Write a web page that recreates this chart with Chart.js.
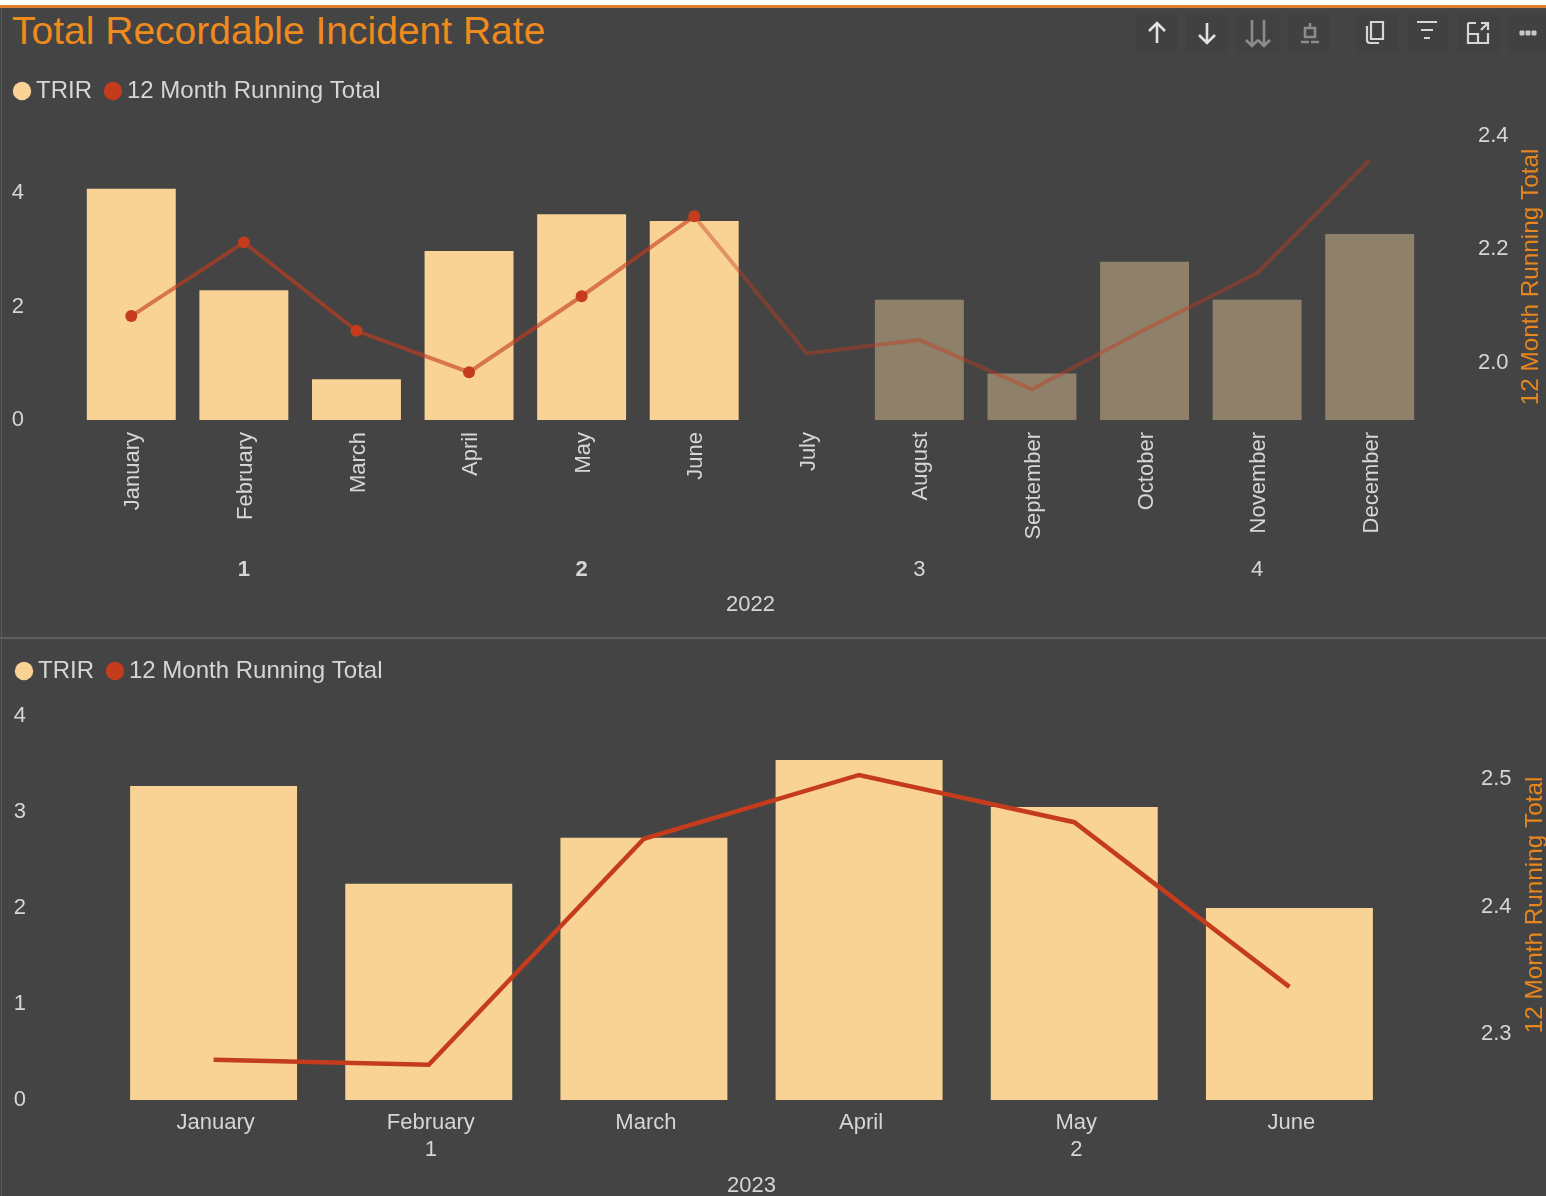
<!DOCTYPE html>
<html>
<head>
<meta charset="utf-8">
<title>Total Recordable Incident Rate</title>
<script src="https://cdn.jsdelivr.net/npm/chart.js@4"></script>
<style>
    html, body { margin: 0; padding: 0; background: #fff; }
    #board { position: relative; width: 1546px; height: 1196px; overflow: hidden; background: #444444; }
    #top-rule { position: absolute; left: 0; top: 0; width: 1546px; height: 8px; background: #fff; border-bottom: 3px solid #df7f2f; box-sizing: border-box; }
    #divider { position: absolute; left: 0; top: 637px; width: 1546px; height: 2px; background: #5f5f5f; }
    #left-edge { position: absolute; left: 1px; top: 8px; width: 1px; height: 1188px; background: #5a5a5a; }
    h1 { position: absolute; left: 12px; top: 9px; margin: 0; font: 400 39px/44px "Liberation Sans"; color: #ee8a1e; white-space: nowrap; }
    canvas { position: absolute; left: 0; }
    #chart-2022 { top: 0; }
    #chart-2023 { top: 590px; }
    #toolbar { position: absolute; left: 1130px; top: 10px; }
</style>
</head>
<body>
<div id="board">
    <div id="top-rule"></div>
    <div id="divider"></div>
    <div id="left-edge"></div>
    <h1>Total Recordable Incident Rate</h1>
    <canvas id="chart-2022" width="1546" height="638"></canvas>
    <canvas id="chart-2023" width="1546" height="609"></canvas>
    <svg id="toolbar" width="416" height="46" fill="none" stroke-width="2.6">
        <g fill="#414141" stroke="none">
            <rect x="6" y="4" width="42" height="38"/>
            <rect x="56" y="4" width="42" height="38"/>
            <rect x="107" y="4" width="42" height="38"/>
            <rect x="158" y="4" width="42" height="38"/>
            <rect x="226" y="4" width="42" height="38"/>
            <rect x="277" y="4" width="42" height="38"/>
            <rect x="328" y="4" width="42" height="38"/>
            <rect x="378" y="4" width="38" height="38"/>
        </g>
        <g stroke="#e2e2e2">
            <path d="M27 33V13M19 21l8-8 8 8"/>
            <path d="M77 13v20M69 25l8 8 8-8"/>
        </g>
        <g stroke="#8c8c8c">
            <path d="M122 10v26M116 30l6 6 6-6M134 10v26M128 30l6 6 6-6"/>
            <path d="M180 13v5M175 18h10v9h-10zM171 32h8M181 32h8"/>
        </g>
        <g stroke="#d6d6d6" stroke-width="2.2">
            <path d="M241 12h12v17h-12zM237 16v14q0 3 3 3h9"/>
            <path d="M287 12h20M291 20h12M294 28h6"/>
            <path d="M338 13h8M358 23v10h-20V13M338 24h10v9M351 13h7v7M358 13l-7 7"/>
        </g>
        <path d="M390 21h4v4h-4zM396 21h4v4h-4zM402 21h4v4h-4z" fill="#c8c8c8" stroke="#c8c8c8" stroke-width="1"/>
    </svg>
</div>

<script>
var seriesBars = 'TRIR';
var seriesLine = '12 Month Running Total';

var months2022     = ['January', 'February', 'March', 'April', 'May', 'June', 'July', 'August', 'September', 'October', 'November', 'December'];
var quarters2022   = ['', '1', '', '', '2', '', '', '3', '', '', '4', ''];
var trir2022       = [4.08, 2.29, 0.72, 2.98, 3.63, 3.51, null, 2.12, 0.82, 2.79, 2.12, 3.28];
var running2022    = [2.082, 2.212, 2.056, 1.983, 2.117, 2.258, 2.016, 2.04, 1.953, 2.058, 2.158, 2.357];
var leftTicks2022  = [0, 2, 4];
var rightTicks2022 = [2.0, 2.2, 2.4];

var months2023     = ['January', 'February', 'March', 'April', 'May', 'June'];
var quarters2023   = ['', '1', '', '', '2', ''];
var trir2023       = [3.27, 2.25, 2.73, 3.54, 3.05, 2.0];
var running2023    = [2.280, 2.276, 2.453, 2.503, 2.466, 2.337];
var leftTicks2023  = [0, 1, 2, 3, 4];
var rightTicks2023 = [2.3, 2.4, 2.5];

// 2022 : only the first six months stay highlighted
var highlighted2022 = 6;

var COL_BAR       = '#f9d296';
var COL_BAR_DIM   = '#8f806a';
var COL_LINE      = '#c43c1c';
var COL_TEXT      = '#d6d6d6';
var COL_AXIS_NAME = '#e8861e';
var FONT          = '"Liberation Sans"';

Chart.defaults.font.family = FONT;
Chart.defaults.animation = false;

// The right axis name reads bottom to top, which the axis title cannot do
var rightName = {
    id: 'rightName',
    afterDraw: function (chart, args, opts) {
        var ctx = chart.ctx;
        ctx.save();
        ctx.translate(opts.x, opts.y);
        ctx.rotate(-Math.PI / 2);
        ctx.textAlign = 'center';
        ctx.textBaseline = 'middle';
        ctx.fillStyle = COL_AXIS_NAME;
        ctx.font = '24.3px ' + FONT;
        ctx.fillText(seriesLine, 0, 0);
        ctx.restore();
    }
};

function fixTicks(values) {
    return function (scale) {
        scale.ticks = values.map(function (v) { return { value: v }; });
    };
}

function fixWidth(w) {
    return function (scale) { scale.width = w; };
}

function fixHeight(h) {
    return function (scale) { scale.height = h; };
}

function drawChart(id, c) {
    return new Chart(document.getElementById(id), {
        type: 'bar',
        plugins: [rightName],
        data: {
            labels: c.months,
            datasets: [
                {
                    type: 'line',
                    label: seriesLine,
                    data: c.running,
                    yAxisID: 'y1',
                    order: 0,
                    borderColor: COL_LINE,
                    backgroundColor: COL_LINE,
                    borderWidth: c.lineWidth,
                    tension: 0,
                    pointStyle: 'circle',
                    pointRadius: c.pointRadius,
                    pointBackgroundColor: COL_LINE,
                    pointBorderWidth: 0,
                    segment: { borderColor: c.segmentColor }
                },
                {
                    label: seriesBars,
                    data: c.trir,
                    yAxisID: 'y',
                    order: 1,
                    backgroundColor: c.barColor,
                    categoryPercentage: 1,
                    barPercentage: c.barShare
                }
            ]
        },
        options: {
            responsive: false,
            layout: { padding: { left: c.padLeft, top: c.padTop } },
            plugins: {
                rightName: c.rightName,
                tooltip: { enabled: false },
                legend: {
                    position: 'top',
                    align: 'start',
                    reverse: true,
                    labels: {
                        usePointStyle: true,
                        boxWidth: 4,
                        boxHeight: 13,
                        padding: 19,
                        color: COL_TEXT,
                        font: { size: 24 }
                    }
                }
            },
            scales: {
                x: {
                    weight: 0,
                    offset: true,
                    border: { display: false },
                    grid: { display: false, drawTicks: false },
                    afterFit: fixHeight(c.monthsHeight),
                    ticks: {
                        color: COL_TEXT,
                        autoSkip: false,
                        minRotation: c.monthRotation,
                        maxRotation: c.monthRotation,
                        padding: c.monthsPad,
                        labelOffset: 2,
                        font: { size: 22 }
                    }
                },
                xQuarter: {
                    type: 'category',
                    position: 'bottom',
                    weight: 1,
                    labels: c.quarters,
                    offset: true,
                    border: { display: false },
                    grid: { display: false, drawTicks: false },
                    afterFit: fixHeight(c.quartersHeight),
                    ticks: {
                        color: COL_TEXT,
                        autoSkip: false,
                        maxRotation: 0,
                        padding: c.quartersPad,
                        labelOffset: c.quartersShift,
                        font: c.quarterFont
                    },
                    title: {
                        display: true,
                        text: c.year,
                        color: COL_TEXT,
                        padding: { top: 0, bottom: c.yearPad },
                        font: { size: 22 }
                    }
                },
                y: {
                    position: 'left',
                    min: c.leftMin,
                    max: c.leftMax,
                    border: { display: false },
                    grid: { display: false, drawTicks: false },
                    afterBuildTicks: fixTicks(c.leftTicks),
                    afterFit: fixWidth(c.leftWidth),
                    ticks: {
                        color: COL_TEXT,
                        padding: c.leftPad,
                        font: { size: 22 }
                    }
                },
                y1: {
                    position: 'right',
                    min: c.rightMin,
                    max: c.rightMax,
                    border: { display: false },
                    grid: { display: false, drawTicks: false },
                    afterBuildTicks: fixTicks(c.rightTicks),
                    afterFit: fixWidth(c.rightWidth),
                    ticks: {
                        color: COL_TEXT,
                        padding: c.rightPad,
                        font: { size: 22 },
                        callback: function (v) { return v.toFixed(1); }
                    }
                }
            }
        }
    });
}

drawChart('chart-2022', {
    months: months2022, quarters: quarters2022, trir: trir2022, running: running2022,
    leftTicks: leftTicks2022, rightTicks: rightTicks2022, year: '2022',
    leftMin: 0, leftMax: 5.415, rightMin: 1.8987, rightMax: 2.4402,
    padLeft: 1, padTop: 60, leftWidth: 74, rightWidth: 120,
    leftPad: 51, rightPad: 52, barShare: 0.79, lineWidth: 4,
    monthsHeight: 133, monthRotation: 90, monthsPad: 12,
    quartersHeight: 85, quartersPad: 4, quartersShift: 0, yearPad: 20,
    rightName: { x: 1531, y: 277 },
    pointRadius: function (ctx) { return ctx.dataIndex < highlighted2022 ? 6 : 0; },
    barColor: function (ctx) { return ctx.dataIndex < highlighted2022 ? COL_BAR : COL_BAR_DIM; },
    segmentColor: function (ctx) {
        return ctx.p1DataIndex < highlighted2022 ? 'rgba(196,60,28,0.62)' : 'rgba(196,60,28,0.42)';
    },
    quarterFont: function (ctx) {
        return { size: 22, weight: ctx.index < 5 ? 'bold' : 'normal' };
    }
});

drawChart('chart-2023', {
    months: months2023, quarters: quarters2023, trir: trir2023, running: running2023,
    leftTicks: leftTicks2023, rightTicks: rightTicks2023, year: '2023',
    leftMin: 0, leftMax: 4.237, rightMin: 2.2484, rightMax: 2.5672,
    padLeft: 3, padTop: 50, leftWidth: 103, rightWidth: 149,
    leftPad: 80, rightPad: 84, barShare: 0.776, lineWidth: 4.5,
    monthsHeight: 36, monthRotation: 0, monthsPad: 10,
    quartersHeight: 63, quartersPad: 1, quartersShift: 2, yearPad: 0,
    rightName: { x: 1535, y: 315 },
    pointRadius: 0,
    barColor: COL_BAR,
    segmentColor: undefined,
    quarterFont: { size: 22 }
});
</script>
</body>
</html>
